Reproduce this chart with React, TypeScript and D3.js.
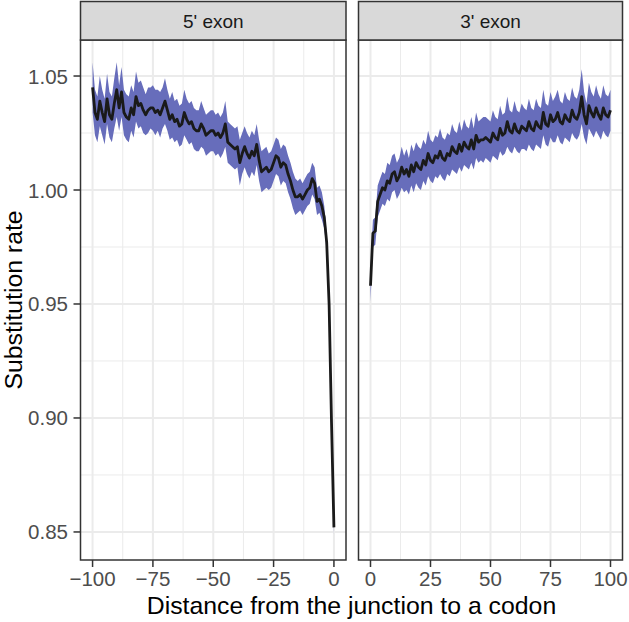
import React from 'react';
import * as d3 from 'd3';

// positions relative to the exon junction
const leftPos = d3.range(-100, 1);
const rightPos = d3.range(0, 101);

// 5' exon, mean substitution rate from -100 to 0
const leftMean = [
  1.045, 1.034, 1.031, 1.039, 1.034, 1.030, 1.040, 1.033, 1.031, 1.038,
  1.044, 1.036, 1.043, 1.034, 1.032, 1.031, 1.036, 1.033, 1.041, 1.037,
  1.038, 1.035, 1.033, 1.035, 1.036, 1.036, 1.034, 1.035, 1.033, 1.036,
  1.039, 1.035, 1.031, 1.033, 1.030, 1.031, 1.028, 1.029, 1.034, 1.031,
  1.029, 1.030, 1.027, 1.026, 1.026, 1.029, 1.027, 1.024, 1.025, 1.026,
  1.026, 1.024, 1.025, 1.023, 1.025, 1.029, 1.021, 1.020, 1.019, 1.018,
  1.019, 1.012, 1.016, 1.019, 1.016, 1.014, 1.017, 1.015, 1.020, 1.013,
  1.008, 1.009, 1.010, 1.008, 1.009, 1.012, 1.015, 1.014, 1.010, 1.012,
  1.011, 1.007, 1.004, 1.000, 0.997, 0.997, 0.998, 0.996, 0.998, 1.000,
  1.001, 1.005, 1.003, 0.995, 0.996, 0.993, 0.988, 0.977, 0.950, 0.898,
  0.852,
];

// half width of the ribbon
const leftCI = [
  0.011, 0.010, 0.010, 0.011, 0.010, 0.010, 0.011, 0.010, 0.010, 0.011,
  0.012, 0.010, 0.011, 0.010, 0.010, 0.010, 0.010, 0.010, 0.011, 0.010,
  0.010, 0.010, 0.009, 0.010, 0.009, 0.010, 0.010, 0.009, 0.010, 0.009,
  0.010, 0.009, 0.009, 0.010, 0.009, 0.009, 0.009, 0.009, 0.010, 0.009,
  0.009, 0.009, 0.009, 0.009, 0.009, 0.010, 0.009, 0.009, 0.009, 0.009,
  0.009, 0.009, 0.009, 0.009, 0.009, 0.010, 0.009, 0.009, 0.009, 0.009,
  0.009, 0.010, 0.009, 0.009, 0.009, 0.009, 0.009, 0.009, 0.009, 0.009,
  0.009, 0.009, 0.009, 0.008, 0.008, 0.008, 0.008, 0.008, 0.008, 0.008,
  0.008, 0.008, 0.008, 0.008, 0.008, 0.007, 0.007, 0.007, 0.007, 0.007,
  0.007, 0.007, 0.007, 0.006, 0.006, 0.006, 0.005, 0.004, 0.003, 0.002,
  0.003,
];

// 3' exon, mean substitution rate from 0 to 100
const rightMean = [
  0.958, 0.981, 0.982, 0.995, 0.998, 1.001, 1.000, 1.004, 1.003, 1.007,
  1.008, 1.004, 1.006, 1.010, 1.007, 1.009, 1.006, 1.011, 1.008, 1.012,
  1.010, 1.009, 1.013, 1.011, 1.016, 1.013, 1.012, 1.015, 1.014, 1.017,
  1.014, 1.013, 1.016, 1.015, 1.019, 1.017, 1.016, 1.020, 1.017, 1.021,
  1.019, 1.018, 1.022, 1.018, 1.024, 1.021, 1.022, 1.022, 1.023, 1.022,
  1.021, 1.025, 1.023, 1.022, 1.027, 1.024, 1.025, 1.030, 1.026, 1.025,
  1.029, 1.026, 1.025, 1.028, 1.027, 1.026, 1.030, 1.027, 1.026, 1.030,
  1.028, 1.027, 1.034, 1.029, 1.028, 1.033, 1.030, 1.031, 1.034, 1.030,
  1.029, 1.033, 1.031, 1.030, 1.035, 1.032, 1.031, 1.034, 1.041, 1.033,
  1.029, 1.037, 1.034, 1.032, 1.036, 1.033, 1.031, 1.036, 1.033, 1.032,
  1.035,
];

const rightCI = [
  0.007, 0.006, 0.006, 0.007, 0.007, 0.007, 0.007, 0.008, 0.008, 0.008,
  0.008, 0.008, 0.008, 0.009, 0.008, 0.009, 0.008, 0.009, 0.009, 0.009,
  0.009, 0.009, 0.009, 0.009, 0.010, 0.009, 0.009, 0.009, 0.009, 0.010,
  0.009, 0.009, 0.009, 0.009, 0.010, 0.009, 0.009, 0.010, 0.009, 0.010,
  0.009, 0.009, 0.010, 0.009, 0.010, 0.009, 0.009, 0.010, 0.009, 0.009,
  0.009, 0.010, 0.009, 0.009, 0.010, 0.009, 0.009, 0.011, 0.009, 0.009,
  0.010, 0.009, 0.009, 0.010, 0.009, 0.009, 0.010, 0.009, 0.009, 0.010,
  0.009, 0.009, 0.010, 0.009, 0.009, 0.010, 0.009, 0.010, 0.010, 0.009,
  0.009, 0.010, 0.009, 0.009, 0.010, 0.009, 0.009, 0.010, 0.012, 0.010,
  0.009, 0.010, 0.009, 0.009, 0.010, 0.009, 0.009, 0.010, 0.009, 0.009,
  0.009,
];

const yTicks = [0.85, 0.9, 0.95, 1.0, 1.05];
const yMinor = [0.875, 0.925, 0.975, 1.025];
const leftTicks = [-100, -75, -50, -25, 0];
const rightTicks = [0, 25, 50, 75, 100];

const W = 629;
const H = 622;
const top = 40;
const bottom = 560;
const font = "'Liberation Sans', Arial, Helvetica, sans-serif";
const fmtX = (v: number) => (v < 0 ? '\u2212' + Math.abs(v) : String(v));

type Pt = { x: number; m: number; ci: number };

const y = d3.scaleLinear().domain([0.8377, 1.0658]).range([bottom, top]);

const panels = [
  {
    title: "5' exon",
    x: d3.scaleLinear().domain([-105, 5]).range([80.5, 346]),
    ticks: leftTicks,
    pts: leftPos.map((x, i) => ({ x, m: leftMean[i], ci: leftCI[i] })),
  },
  {
    title: "3' exon",
    x: d3.scaleLinear().domain([-5, 105]).range([358.5, 622.5]),
    ticks: rightTicks,
    pts: rightPos.map((x, i) => ({ x, m: rightMean[i], ci: rightCI[i] })),
  },
];

const Panel: React.FC<{ p: (typeof panels)[number] }> = ({ p }) => {
  const [x0, x1] = p.x.range();
  const minorX = p.ticks.slice(1).map((t, i) => (t + p.ticks[i]) / 2);
  const pts = p.pts.filter((d) => d.m !== undefined);
  const area = d3
    .area<Pt>()
    .x((d) => p.x(d.x))
    .y0((d) => y(d.m - d.ci))
    .y1((d) => y(d.m + d.ci));
  const line = d3
    .line<Pt>()
    .x((d) => p.x(d.x))
    .y((d) => y(d.m));
  return (
    <g>
      <rect x={x0} y={top} width={x1 - x0} height={bottom - top} fill="#fff" />
      {minorX.map((t) => (
        <line key={'mx' + t} x1={p.x(t)} x2={p.x(t)} y1={top} y2={bottom} stroke="#ebebeb" strokeWidth={1} />
      ))}
      {yMinor.map((t) => (
        <line key={'my' + t} x1={x0} x2={x1} y1={y(t)} y2={y(t)} stroke="#ebebeb" strokeWidth={1} />
      ))}
      {p.ticks.map((t) => (
        <line key={'gx' + t} x1={p.x(t)} x2={p.x(t)} y1={top} y2={bottom} stroke="#ebebeb" strokeWidth={2} />
      ))}
      {yTicks.map((t) => (
        <line key={'gy' + t} x1={x0} x2={x1} y1={y(t)} y2={y(t)} stroke="#ebebeb" strokeWidth={2} />
      ))}
      <path d={area(pts) ?? ''} fill="#676dbb" />
      <path d={line(pts) ?? ''} fill="none" stroke="#1a1a1a" strokeWidth={2.8} strokeLinejoin="round" />
      <rect x={x0} y={top} width={x1 - x0} height={bottom - top} fill="none" stroke="#333" strokeWidth={1.5} />
      <rect x={x0} y={1.5} width={x1 - x0} height={top - 1.5} fill="#d9d9d9" stroke="#333" strokeWidth={1.5} />
      <text x={(x0 + x1) / 2} y={27.5} textAnchor="middle" fontSize={19} fill="#1a1a1a" fontFamily={font}>
        {p.title}
      </text>
      {p.ticks.map((t) => (
        <g key={'t' + t}>
          <line x1={p.x(t)} x2={p.x(t)} y1={bottom} y2={bottom + 7} stroke="#333" strokeWidth={1.5} />
          <text x={p.x(t)} y={bottom + 26} textAnchor="middle" fontSize={20.5} fill="#4d4d4d" fontFamily={font}>
            {fmtX(t)}
          </text>
        </g>
      ))}
    </g>
  );
};

export default function App() {
  return (
    <svg width={W} height={H} style={{ position: 'absolute', left: 0, top: 0, background: '#fff' }}>
      <rect width={W} height={H} fill="#fff" />
      {panels.map((p) => (
        <Panel key={p.title} p={p} />
      ))}
      {yTicks.map((t) => (
        <g key={'yt' + t}>
          <line x1={73.5} x2={80.5} y1={y(t)} y2={y(t)} stroke="#333" strokeWidth={1.5} />
          <text x={68} y={y(t) + 7.5} textAnchor="end" fontSize={20.5} fill="#4d4d4d" fontFamily={font}>
            {t.toFixed(2)}
          </text>
        </g>
      ))}
      <text x={351.5} y={614} textAnchor="middle" fontSize={24.8} fill="#000" fontFamily={font}>
        Distance from the junction to a codon
      </text>
      <text
        transform={`translate(22, ${(top + bottom) / 2}) rotate(-90)`}
        textAnchor="middle"
        fontSize={24.8}
        fill="#000"
        fontFamily={font}
      >
        Substitution rate
      </text>
    </svg>
  );
}
